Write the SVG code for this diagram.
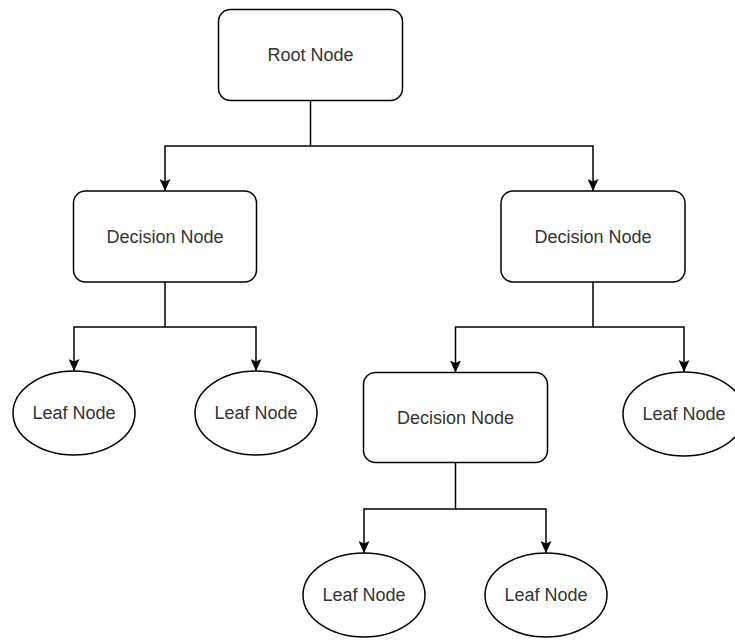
<svg xmlns="http://www.w3.org/2000/svg" width="735" height="643" viewBox="0 0 735 643">
<defs>
<style>
.box{fill:#fff;stroke:#000;stroke-width:1.5}
.lbl{font-family:"Liberation Sans",Arial,sans-serif;font-size:18px;fill:#333;text-anchor:middle;dominant-baseline:central}
.edge{fill:none;stroke:#000;stroke-width:1.5}
</style>
<marker id="arr" markerUnits="userSpaceOnUse" viewBox="0 0 12 11" refX="12" refY="5.5" markerWidth="12" markerHeight="11" orient="auto">
<path d="M0,0 L12,5.5 L0,11 L2.5,5.5 Z" fill="#000"/>
</marker>
</defs>
<rect width="735" height="643" fill="#fff"/>
<g id="connectors">
<path class="edge" d="M310.5,100.5 V146 H165 V191" marker-end="url(#arr)"/>
<path class="edge" d="M310.5,146 H593 V191" marker-end="url(#arr)"/>
<path class="edge" d="M165,282 V327 H74 V371" marker-end="url(#arr)"/>
<path class="edge" d="M165,327 H256 V371" marker-end="url(#arr)"/>
<path class="edge" d="M593,282 V327 H455.5 V372.5" marker-end="url(#arr)"/>
<path class="edge" d="M593,327 H684 V372" marker-end="url(#arr)"/>
<path class="edge" d="M455.5,462.5 V509 H364 V553" marker-end="url(#arr)"/>
<path class="edge" d="M455.5,509 H546 V553" marker-end="url(#arr)"/>
</g>
<g id="root">
<rect class="box" x="218.5" y="9.5" width="184" height="91" rx="12"/>
<text class="lbl" x="310.5" y="55">Root Node</text>
</g>
<g id="decision-left">
<rect class="box" x="73.5" y="191" width="183" height="91" rx="12"/>
<text class="lbl" x="165" y="237">Decision Node</text>
</g>
<g id="decision-right">
<rect class="box" x="501" y="191" width="184" height="91" rx="12"/>
<text class="lbl" x="593" y="237">Decision Node</text>
</g>
<g id="decision-mid">
<rect class="box" x="363.5" y="372.5" width="184" height="90" rx="12"/>
<text class="lbl" x="455.5" y="417.5">Decision Node</text>
</g>
<g id="leaf-1">
<ellipse class="box" cx="74" cy="413" rx="61" ry="42"/>
<text class="lbl" x="74" y="413">Leaf Node</text>
</g>
<g id="leaf-2">
<ellipse class="box" cx="256" cy="413" rx="61" ry="42"/>
<text class="lbl" x="256" y="413">Leaf Node</text>
</g>
<g id="leaf-3">
<ellipse class="box" cx="684" cy="414" rx="61" ry="42"/>
<text class="lbl" x="684" y="414">Leaf Node</text>
</g>
<g id="leaf-4">
<ellipse class="box" cx="364" cy="595" rx="61" ry="42"/>
<text class="lbl" x="364" y="595">Leaf Node</text>
</g>
<g id="leaf-5">
<ellipse class="box" cx="546" cy="595" rx="61" ry="42"/>
<text class="lbl" x="546" y="595">Leaf Node</text>
</g>
</svg>
